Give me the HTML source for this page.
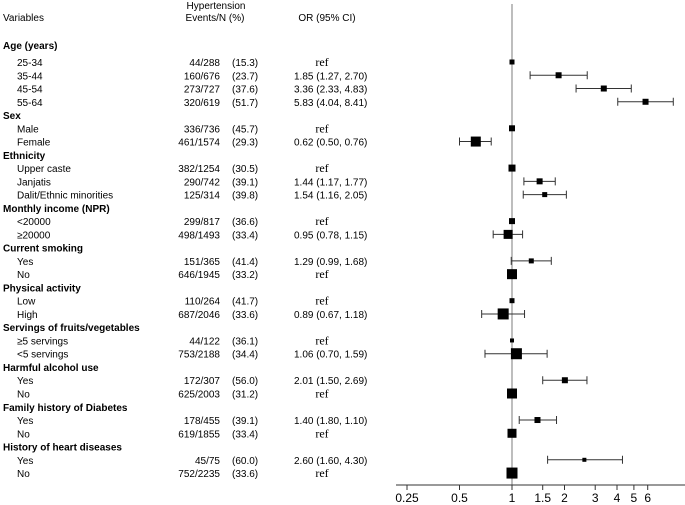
<!DOCTYPE html>
<html><head><meta charset="utf-8"><style>
body{margin:0;background:#fff}
svg{display:block;font-family:"Liberation Sans",Arial,sans-serif;font-size:10px}
.b{font-weight:bold}
.ref{font-family:"Liberation Serif",serif;font-size:12px}
</style></head><body>
<svg id="c" width="685" height="505" viewBox="0 0 685 505">
<g id="txt"></g><g id="plot"></g>
</svg>
<script>
const labels=["Age (years)","25-34","35-44","45-54","55-64","Sex","Male","Female","Ethnicity","Upper caste","Janjatis","Dalit/Ethnic minorities","Monthly income (NPR)","<20000","≥20000","Current smoking","Yes","No","Physical activity","Low","High","Servings of fruits/vegetables","≥5 servings","<5 servings","Harmful alcohol use","Yes","No","Family history of Diabetes","Yes","No","History of heart diseases","Yes","No"];
const events=["","44/288","160/676","273/727","320/619","","336/736","461/1574","","382/1254","290/742","125/314","","299/817","498/1493","","151/365","646/1945","","110/264","687/2046","","44/122","753/2188","","172/307","625/2003","","178/455","619/1855","","45/75","752/2235"];
const pcts=["","(15.3)","(23.7)","(37.6)","(51.7)","","(45.7)","(29.3)","","(30.5)","(39.1)","(39.8)","","(36.6)","(33.4)","","(41.4)","(33.2)","","(41.7)","(33.6)","","(36.1)","(34.4)","","(56.0)","(31.2)","","(39.1)","(33.4)","","(60.0)","(33.6)"];
const orText=["","ref","1.85 (1.27, 2.70)","3.36 (2.33, 4.83)","5.83 (4.04, 8.41)","","ref","0.62 (0.50, 0.76)","","ref","1.44 (1.17, 1.77)","1.54 (1.16, 2.05)","","ref","0.95 (0.78, 1.15)","","1.29 (0.99, 1.68)","ref","","ref","0.89 (0.67, 1.18)","","ref","1.06 (0.70, 1.59)","","2.01 (1.50, 2.69)","ref","","1.40 (1.80, 1.10)","ref","","2.60 (1.60, 4.30)","ref"];
const orVal=[null,1,1.85,3.36,5.83,null,1,0.62,null,1,1.44,1.54,null,1,0.95,null,1.29,1,null,1,0.89,null,1,1.06,null,2.01,1,null,1.40,1,null,2.60,1];
const ciLo=[null,null,1.27,2.33,4.04,null,null,0.50,null,null,1.17,1.16,null,null,0.78,null,0.99,null,null,null,0.67,null,null,0.70,null,1.50,null,null,1.10,null,null,1.60,null];
const ciHi=[null,null,2.70,4.83,8.41,null,null,0.76,null,null,1.77,2.05,null,null,1.15,null,1.68,null,null,null,1.18,null,null,1.59,null,2.69,null,null,1.80,null,null,4.30,null];
const boxSize=[0,5,6,6,6,0,6,10,0,7,6,5,0,6,9,0,5,10,0,5,11,0,4,11,0,6,10,0,6,9,0,4,11];
const ticks=[0.25,0.5,1,1.5,2,3,4,5,6];
const tickLabels=["0.25","0.5","1","1.5","2","3","4","5","6"];
const NS="http://www.w3.org/2000/svg";
const X=v=>512+52.5*Math.log2(v);
const Y=i=>i===0?45:62+(i-1)*13.26;
function mk(tag,attrs,parent,text){const e=document.createElementNS(NS,tag);for(const k in attrs)e.setAttribute(k,attrs[k]);if(text!=null)e.textContent=text;parent.appendChild(e);return e;}
const T=document.getElementById('txt'),P=document.getElementById('plot');
let e;
e=mk('text',{x:3,y:21},T,"Variables");


e=mk('text',{x:216,y:9,'text-anchor':'middle'},T,"Hypertension");


e=mk('text',{x:215,y:21,'text-anchor':'middle'},T,"Events/N (%)");


e=mk('text',{x:327,y:21,'text-anchor':'middle'},T,"OR (95% CI)");


labels.forEach((l,i)=>{
  const y=Y(i)+4;
  const hdr=events[i]==="";
  e=mk('text',{x:hdr?3:17,y:y,class:hdr?'b':''},T,l);
  
  
  if(!hdr){
    e=mk('text',{x:220,y:y,'text-anchor':'end'},T,events[i]);
    
    
    e=mk('text',{x:232,y:y},T,pcts[i]);
    
    
    const isRef=orText[i]==="ref";
    e=mk('text',isRef?{x:322,y:y,'text-anchor':'middle',class:'ref'}:{x:294,y:y},T,orText[i]);
    
    
  }
});
e=mk('line',{x1:X(1),x2:X(1),y1:4,y2:485,stroke:'#9a9a9a','stroke-width':1.3},P);


e=mk('line',{x1:396,x2:685,y1:485,y2:485,stroke:'#333','stroke-width':1},P);


ticks.forEach((t,k)=>{
  e=mk('line',{x1:X(t),x2:X(t),y1:485,y2:490,stroke:'#333'},P);
  
  
  e=mk('text',{x:X(t),y:502,'text-anchor':'middle','font-size':'12'},P,tickLabels[k]);
  
  
});
orVal.forEach((v,i)=>{
  if(v==null)return;
  const y=Y(i);
  if(ciLo[i]!=null){
    const a=X(ciLo[i]),b=X(ciHi[i]);
    e=mk('path',{d:`M${a} ${y}H${b}M${a} ${y-4}V${y+4}M${b} ${y-4}V${y+4}`,stroke:'#333','stroke-width':1,fill:'none'},P);
    
    
  }
  const s=boxSize[i];
  e=mk('rect',{x:X(v)-s/2,y:y-s/2,width:s,height:s,fill:'#000'},P);
  
  
});
</script>
</body></html>
